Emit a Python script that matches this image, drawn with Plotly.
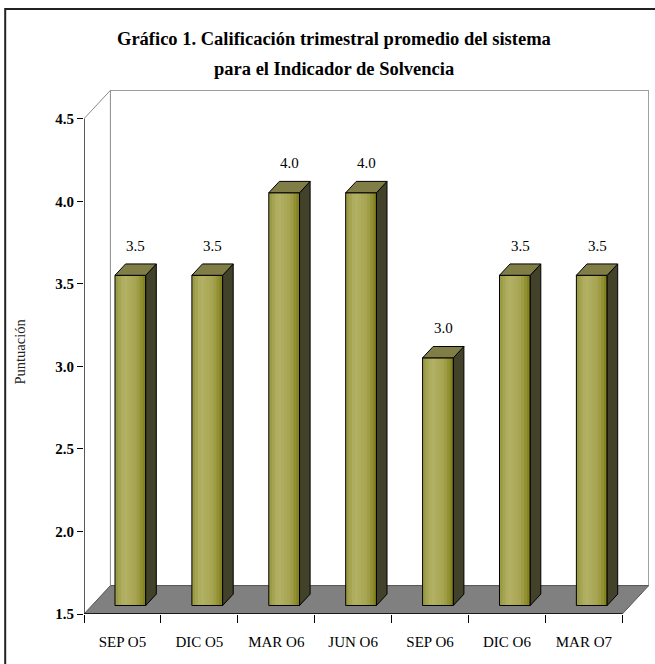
import plotly.graph_objects as go

# ---------------- data ----------------
categories = ["SEP O5", "DIC O5", "MAR O6", "JUN O6", "SEP O6", "DIC O6", "MAR O7"]
values = [3.5, 3.5, 4.0, 4.0, 3.0, 3.5, 3.5]
y_ticks = [1.5, 2.0, 2.5, 3.0, 3.5, 4.0, 4.5]
y_tick_labels = ["1.5", "2.0", "2.5", "3.0", "3.5", "4.0", "4.5"]
value_labels = ["3.5", "3.5", "4.0", "4.0", "3.0", "3.5", "3.5"]
title_line1 = "Gráfico 1. Calificación trimestral promedio del sistema"
title_line2 = "para el Indicador de Solvencia"
y_title = "Puntuación"

# ---------------- geometry / style ----------------
W, H = 655, 664
L, T = 84.3, 90.0
XPX = 76.91            # px per category
YPX = 165.23           # px per unit
Y0 = y_ticks[0]
YT = y_ticks[-1]
X0 = -0.5
X1 = len(categories) - 0.5
DX = 26.4 / XPX        # depth offset in data units
DY = 28.4 / YPX
F0, F1 = 0.3, 0.7      # bar depth span
BW = 0.4               # bar width
xmax = X1 + DX + 0.004
ymax = YT + DY + 0.002
plot_w = (xmax - X0) * XPX
plot_h = (ymax - Y0) * YPX
R = W - L - plot_w
B = H - T - plot_h

SERIF = "Liberation Serif"
grad_stops = [(0.0, (150, 150, 62)), (0.3, (180, 178, 102)), (0.7, (165, 163, 80)), (1.0, (125, 125, 22))]
SIDE = "#42422a"
TOP = "#807e46"
FLOOR = "#808080"


def grad(t):
    for (t0, c0), (t1, c1) in zip(grad_stops[:-1], grad_stops[1:]):
        if t <= t1:
            u = (t - t0) / (t1 - t0)
            return "rgb(%d,%d,%d)" % tuple(round(a + (b - a) * u) for a, b in zip(c0, c1))
    return "rgb(%d,%d,%d)" % grad_stops[-1][1]


def px_x(p):
    return (p - L) / plot_w


def px_y(p):
    return (H - B - p) / plot_h


xs = list(range(len(categories)))
heights = [v - Y0 for v in values]
base0 = Y0 + F0 * DY

fig = go.Figure()

# front faces with gradient: each strip runs from its start to the right edge,
# later strips overlay earlier ones (no seams)
N = 10
sw = BW / N
for k in range(N):
    fig.add_trace(go.Bar(
        x=xs, y=heights, base=base0,
        width=BW - k * sw, offset=-BW / 2 + F0 * DX + k * sw,
        marker=dict(color=grad((k + 0.5) / N), line=dict(width=0)),
        hoverinfo="skip", showlegend=False))
# outline of front faces
fig.add_trace(go.Bar(
    x=xs, y=heights, base=base0, width=BW, offset=-BW / 2 + F0 * DX,
    marker=dict(color="rgba(0,0,0,0)", line=dict(color="black", width=1)),
    hoverinfo="skip", showlegend=False))

# side and top faces
sx, sy, tx, ty = [], [], [], []
dd_x = (F1 - F0) * DX
dd_y = (F1 - F0) * DY
for i, v in zip(xs, values):
    xl = i - BW / 2 + F0 * DX
    xr = i + BW / 2 + F0 * DX
    yb = Y0 + F0 * DY
    yt = v + F0 * DY
    sx += [xr, xr, xr + dd_x, xr + dd_x, xr, None]
    sy += [yb, yt, yt + dd_y, yb + dd_y, yb, None]
    tx += [xl, xr, xr + dd_x, xl + dd_x, xl, None]
    ty += [yt, yt, yt + dd_y, yt + dd_y, yt, None]
fig.add_trace(go.Scatter(x=sx, y=sy, mode="lines", fill="toself", fillcolor=SIDE,
                         line=dict(color="black", width=1), hoverinfo="skip", showlegend=False))
fig.add_trace(go.Scatter(x=tx, y=ty, mode="lines", fill="toself", fillcolor=TOP,
                         line=dict(color="black", width=1), hoverinfo="skip", showlegend=False))

# dummy trace on xaxis2 so the tick axis is drawn
fig.add_trace(go.Scatter(x=[X0], y=[Y0], xaxis="x2", mode="markers",
                         marker=dict(opacity=0), hoverinfo="skip", showlegend=False))

shapes = []
# back wall
shapes.append(dict(type="rect", xref="x", yref="y", x0=X0 + DX, x1=X1 + DX, y0=Y0 + DY, y1=YT + DY,
                   fillcolor="white", line=dict(color="#8a8a8a", width=1), layer="below"))
# left wall top edge
shapes.append(dict(type="line", xref="x", yref="y", x0=X0, y0=YT, x1=X0 + DX, y1=YT + DY,
                   line=dict(color="#8a8a8a", width=1), layer="below"))
# floor
shapes.append(dict(type="path", xref="x", yref="y",
                   path="M %f %f L %f %f L %f %f L %f %f Z" % (X0, Y0, X1, Y0, X1 + DX, Y0 + DY, X0 + DX, Y0 + DY),
                   fillcolor=FLOOR, line=dict(color="#555555", width=1), layer="below"))
# front axis lines
shapes.append(dict(type="line", xref="x", yref="y", x0=X0, y0=Y0, x1=X1, y1=Y0,
                   line=dict(color="black", width=1.3)))
shapes.append(dict(type="line", xref="x", yref="y", x0=X0, y0=Y0, x1=X0, y1=YT,
                   line=dict(color="black", width=1.3)))
# outer frame
shapes.append(dict(type="rect", xref="paper", yref="paper", x0=px_x(5.5), x1=px_x(700), y0=px_y(700), y1=px_y(9),
                   line=dict(color="#222222", width=2), fillcolor="rgba(0,0,0,0)", layer="below"))

annotations = []
for i, v, lab in zip(xs, values, value_labels):
    annotations.append(dict(x=i + (F0 + F1) / 2 * DX, y=v + F1 * DY, xref="x", yref="y",
                            text=lab, showarrow=False, yanchor="middle", yshift=18,
                            font=dict(family=SERIF, size=15, color="black")))
annotations.append(dict(x=px_x(334.5), y=px_y(39), xref="paper", yref="paper", text=title_line1,
                        showarrow=False, xanchor="center", yanchor="middle",
                        font=dict(family=SERIF, size=18.5, color="black", weight="bold")))
annotations.append(dict(x=px_x(334.5), y=px_y(69), xref="paper", yref="paper", text=title_line2,
                        showarrow=False, xanchor="center", yanchor="middle",
                        font=dict(family=SERIF, size=18.5, color="black", weight="bold")))
annotations.append(dict(x=px_x(20), y=px_y(352), xref="paper", yref="paper", text=y_title,
                        showarrow=False, textangle=-90, xanchor="center", yanchor="middle",
                        font=dict(family=SERIF, size=14.5, color="#222222")))

fig.update_layout(
    width=W, height=H,
    margin=dict(l=L, r=R, t=T, b=B, pad=0),
    paper_bgcolor="white", plot_bgcolor="rgba(0,0,0,0)",
    barmode="overlay", showlegend=False,
    shapes=shapes, annotations=annotations,
    xaxis=dict(range=[X0, xmax], tickvals=xs, ticktext=categories, showgrid=False, zeroline=False,
               showline=False, ticks="outside", ticklen=14, tickcolor="rgba(0,0,0,0)",
               tickfont=dict(family=SERIF, size=15, color="black"), fixedrange=True),
    xaxis2=dict(range=[X0, xmax], overlaying="x", anchor="y", side="bottom",
                tickvals=[k - 0.5 for k in range(len(categories) + 1)], showticklabels=False,
                ticks="outside", ticklen=8, tickcolor="black", tickwidth=1.3,
                showgrid=False, zeroline=False, showline=False),
    yaxis=dict(range=[Y0, ymax], tickvals=y_ticks, ticktext=y_tick_labels, showgrid=False, zeroline=False,
               showline=False, ticks="outside", ticklen=6, tickcolor="black", tickwidth=1.3,
               tickfont=dict(family=SERIF, size=15, color="black", weight="bold"), fixedrange=True),
)

fig.write_html("out.html")
